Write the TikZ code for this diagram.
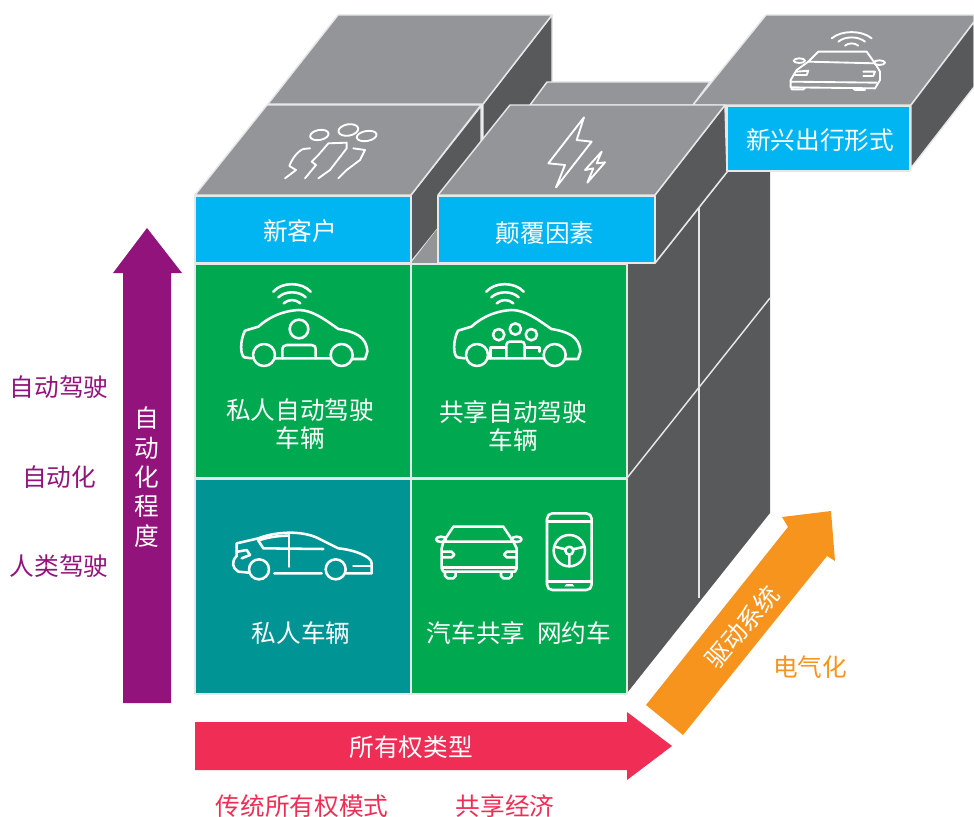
\documentclass[tikz,border=0pt]{standalone}
\usepackage{fontspec}
\setmainfont{Noto Sans CJK SC}
\definecolor{tiletop}{HTML}{939598}
\definecolor{tileside}{HTML}{58595B}
\definecolor{tileedge}{HTML}{E6E7E8}
\definecolor{skyblue}{HTML}{00B5F1}
\definecolor{cellgreen}{HTML}{00A94F}
\definecolor{cellteal}{HTML}{009494}
\definecolor{axispurple}{HTML}{92137B}
\definecolor{axisred}{HTML}{F02D55}
\definecolor{axisorange}{HTML}{F7941D}
\tikzset{
  face/.style={draw=tileedge,line width=1.1pt,line join=round},
  topface/.style={face,fill=tiletop},
  sideface/.style={face,fill=tileside},
  blueface/.style={face,fill=skyblue},
  greenface/.style={face,fill=cellgreen},
  tealface/.style={face,fill=cellteal},
  icon/.style={draw=white,line width=1.9pt,line cap=round,line join=round},
  thinicon/.style={draw=white,line width=1.4pt,line cap=round,line join=round},
  zoomed/.style={x=0.25pt,y=-0.25pt},
  label/.style={inner sep=0pt,font=\fontsize{18.5}{21}\selectfont},
  whitelabel/.style={label,text=white,align=center},
}
\begin{document}
\begin{tikzpicture}[x=0.75pt,y=-0.75pt]
\useasboundingbox (0,0) rectangle (974,817);

% rear dark column
\fill[tileside] (655,263) -- (727,172) -- (770,172) -- (770,513) -- (627,693) -- (627,263) -- cycle;
\draw[tileedge,line width=1.1pt] (699,208) -- (699,598);
\draw[tileedge,line width=1.1pt] (627,478) -- (770,298);
\draw[tileedge,line width=1.1pt] (655,263) -- (727,172);

% back-left tile
\draw[sideface] (552,15) -- (552,82) -- (483,170) -- (483,104) -- cycle;
\draw[topface] (338,15) -- (552,15) -- (483,104) -- (268,104) -- cycle;
% back-middle tile
\draw[topface] (547,82) -- (710,82) -- (693,105) -- (530,105) -- cycle;
% far right tile
\draw[topface] (766,15) -- (974,15) -- (974,22) -- (911,105) -- (693,105) -- cycle;
\draw[sideface] (911,105) -- (974,22) -- (974,87) -- (911,168) -- cycle;
\draw[blueface] (727,106) rectangle (910,171);
% front-left tile
\draw[sideface] (481,106) -- (411,195) -- (411,262) -- (481,175) -- cycle;
\fill[tiletop] (411,263) -- (438,228) -- (438,263) -- cycle;
\draw[topface] (267,105) -- (481,105) -- (411,195) -- (195,195) -- cycle;
\draw[blueface] (195,196) rectangle (411,263);
% front-right tile
\draw[sideface] (725,105) -- (655,195) -- (655,263) -- (727,172) -- cycle;
\draw[topface] (510,105) -- (725,105) -- (655,195) -- (438,195) -- cycle;
\draw[blueface] (438,196) rectangle (655,263);

% cells
\draw[greenface] (195,264) rectangle (411,478);
\draw[greenface] (411,264) rectangle (627,478);
\draw[tealface] (195,479) rectangle (411,694);
\draw[greenface] (411,479) rectangle (627,694);

% axes
\fill[axispurple] (123,703) -- (171,703) -- (171,273) -- (182,273) -- (147,228) -- (113,273) -- (123,273) -- cycle;
\fill[axisred] (195,722) -- (627,722) -- (627,712) -- (672,746) -- (627,780) -- (627,770) -- (195,770) -- cycle;
\fill[axisorange] (646,705) -- (788,527) -- (782,517) -- (831,511) -- (835,561) -- (827,556) -- (683,735) -- cycle;

% icon: private autonomous car
\begin{scope}[shift={(195,260)},zoomed]
  \draw[icon] (170,295) -- (148,292) .. controls (135,285) and (135,240) .. (150,212)
     -- (190,200) .. controls (235,160) and (280,152) .. (310,150)
     .. controls (350,150) and (385,175) .. (430,207)
     .. controls (480,215) and (515,230) .. (517,275) -- (510,297) -- (472,297);
  \draw[icon] (207,285) circle (33) (440,285) circle (33) (240,295) -- (407,295);
  \draw[icon] (312,207) circle (28);
  \draw[icon] (262,295) -- (262,270) .. controls (262,260) and (268,255) .. (275,255) -- (350,255) .. controls (358,255) and (362,260) .. (362,270) -- (362,295);
  \draw[icon] (235,95) .. controls (260,65) and (320,65) .. (347,95);
  \draw[icon] (250,112) .. controls (270,92) and (312,92) .. (332,112);
  \draw[icon] (266,130) .. controls (280,117) and (302,117) .. (316,130);
\end{scope}

% icon: shared autonomous car
\begin{scope}[shift={(408,260)},zoomed]
  \draw[icon] (170,295) -- (148,292) .. controls (135,285) and (135,240) .. (150,212)
     -- (190,200) .. controls (235,160) and (280,152) .. (310,150)
     .. controls (350,150) and (385,175) .. (430,207)
     .. controls (480,215) and (515,230) .. (517,275) -- (510,297) -- (472,297);
  \draw[icon] (207,285) circle (33) (440,285) circle (33) (240,295) -- (407,295);
  \draw[icon] (322,207) circle (17) (272,224) circle (17) (370,224) circle (17);
  \draw[icon] (295,295) -- (295,255) .. controls (295,248) and (300,245) .. (305,245) -- (340,245) .. controls (345,245) and (350,248) .. (350,255) -- (350,295);
  \draw[icon] (248,295) -- (248,262) -- (295,262);
  \draw[icon] (350,262) -- (395,262) -- (395,275);
  \draw[icon] (235,95) .. controls (260,65) and (320,65) .. (347,95);
  \draw[icon] (250,112) .. controls (270,92) and (312,92) .. (332,112);
  \draw[icon] (266,130) .. controls (280,117) and (302,117) .. (316,130);
\end{scope}

% icon: sedan side view, front car, phone
\begin{scope}[shift={(195,480)},zoomed]
  \draw[icon] (162,278) -- (130,275) .. controls (112,265) and (108,245) .. (125,228)
     -- (125,190) -- (190,175) .. controls (240,155) and (320,150) .. (370,175)
     -- (430,205) .. controls (480,210) and (530,230) .. (530,250) -- (530,280) -- (452,280);
  \draw[icon] (192,268) circle (30) (422,268) circle (30) (238,280) -- (380,280);
  \draw[icon] (282,165) -- (282,260);
  \draw[icon] (190,182) -- (205,205) -- (385,207);
  \draw[icon] (190,182) .. controls (215,172) and (250,167) .. (282,167);
  \draw[icon] (475,258) -- (530,258);
  \draw[icon] (128,215) -- (155,210) -- (165,225) -- (140,235);
  % front car
  \draw[icon] (745,185) -- (775,140) -- (925,140) -- (955,185) -- cycle;
  \draw[icon] (745,185) -- (740,205) -- (740,265) -- (745,275) -- (960,275) -- (965,265) -- (965,205) -- (955,185);
  \draw[icon] (745,262) -- (960,262);
  \draw[icon] (738,178) ellipse (15 and 8) (965,178) ellipse (15 and 8);
  \draw[icon] (742,215) -- (770,215) -- (778,224) -- (770,232) -- (742,232);
  \draw[icon] (963,215) -- (935,215) -- (927,224) -- (935,232) -- (963,232);
  \draw[icon] (750,278) -- (750,288) -- (758,295) -- (775,295) -- (782,288) -- (782,278);
  \draw[icon] (918,278) -- (918,288) -- (925,295) -- (942,295) -- (950,288) -- (950,278);
  % phone
  \draw[icon,rounded corners=4pt] (1056,100) rectangle (1190,330);
  \draw[icon] (1056,125) -- (1190,125) (1056,305) -- (1190,305);
  \draw[icon] (1123,212) circle (47) (1123,212) circle (12);
  \draw[icon] (1078,200) -- (1112,208) (1168,200) -- (1134,208) (1123,225) -- (1123,258);
  \fill[white] (1108,319) -- (1114,312) -- (1132,312) -- (1138,319) -- cycle;
\end{scope}

% icon: people
\begin{scope}[shift={(190,0)},zoomed]
  \draw[thinicon,rotate around={10:(388,405)}] (388,405) ellipse (28 and 15);
  \draw[thinicon,rotate around={10:(475,390)}] (475,390) ellipse (30 and 17);
  \draw[thinicon,rotate around={10:(530,408)}] (530,408) ellipse (30 and 15);
  \draw[thinicon] (360,445) -- (340,447) .. controls (320,455) and (305,480) .. (298,498) -- (318,510) -- (285,535);
  \draw[thinicon] (345,535) -- (378,495) -- (365,485) -- (385,465) -- (415,430) -- (470,428) -- (470,445) -- (420,510) -- (385,535);
  \draw[thinicon] (490,445) -- (525,450) -- (510,480) -- (470,510) -- (445,535);
\end{scope}

% icons: lightning, far car
\begin{scope}[shift={(530,0)},zoomed]
  \draw[thinicon] (162,352) -- (55,490) -- (105,495) -- (78,562) -- (185,425) -- (140,420) -- cycle;
  \draw[thinicon] (215,455) -- (165,510) -- (190,505) -- (172,548) -- (225,487) -- (200,490) -- cycle;
  \draw[thinicon] (905,115) .. controls (935,90) and (995,90) .. (1025,115);
  \draw[thinicon] (925,125) .. controls (945,108) and (985,108) .. (1005,125);
  \draw[thinicon] (945,137) .. controls (955,128) and (975,128) .. (985,137);
  \draw[thinicon] (835,185) -- (865,155) -- (1010,155) -- (1035,190) -- cycle;
  \draw[thinicon] (835,185) -- (800,210) -- (782,240) -- (782,262) -- (1035,265) -- (1050,240) -- (1050,215) -- (1035,190);
  \draw[thinicon] (782,245) -- (1040,248);
  \draw[thinicon] (808,182) ellipse (17 and 7) (1048,188) ellipse (17 and 7);
  \draw[thinicon] (800,215) -- (835,212) -- (830,225) -- (795,225);
  \draw[thinicon] (1000,215) -- (1035,215) -- (1030,228) -- (1000,228);
  \draw[thinicon] (785,264) -- (785,268) -- (820,268) -- (825,264);
  \draw[thinicon] (970,265) -- (975,270) -- (1005,270) -- (1005,265);
\end{scope}

% labels
\node[whitelabel] (xinkehu) at (300,231) {新客户};
\node[whitelabel] (dianfu) at (545,233) {颠覆因素};
\node[whitelabel] (xinxing) at (820,140) {新兴出行形式};
\node[whitelabel] (sirenauto) at (300,424) {私人自动驾驶\\车辆};
\node[whitelabel] (gongxiangauto) at (513,426) {共享自动驾驶\\车辆};
\node[whitelabel] (sirenchel) at (301,633) {私人车辆};
\node[whitelabel] (qichegx) at (476,633) {汽车共享};
\node[whitelabel] (wangyue) at (574,633) {网约车};
\node[label,text=axispurple] (zidongjs) at (59,387) {自动驾驶};
\node[label,text=axispurple] (zidonghua) at (59,477) {自动化};
\node[label,text=axispurple] (renlei) at (59,566) {人类驾驶};
\node[whitelabel] (chengdu) at (147,477) {自\\[1pt]动\\[1pt]化\\[1pt]程\\[1pt]度};
\node[whitelabel] (suoyou) at (411,747) {所有权类型};
\node[label,text=axisred] (chuantong) at (302,806) {传统所有权模式};
\node[label,text=axisred] (gongxiangjj) at (505,806) {共享经济};
\node[label,text=axisorange] (dianqi) at (810,667) {电气化};
\node[whitelabel,rotate=50] (qudong) at (742,627) {驱动系统};
\end{tikzpicture}
\end{document}
